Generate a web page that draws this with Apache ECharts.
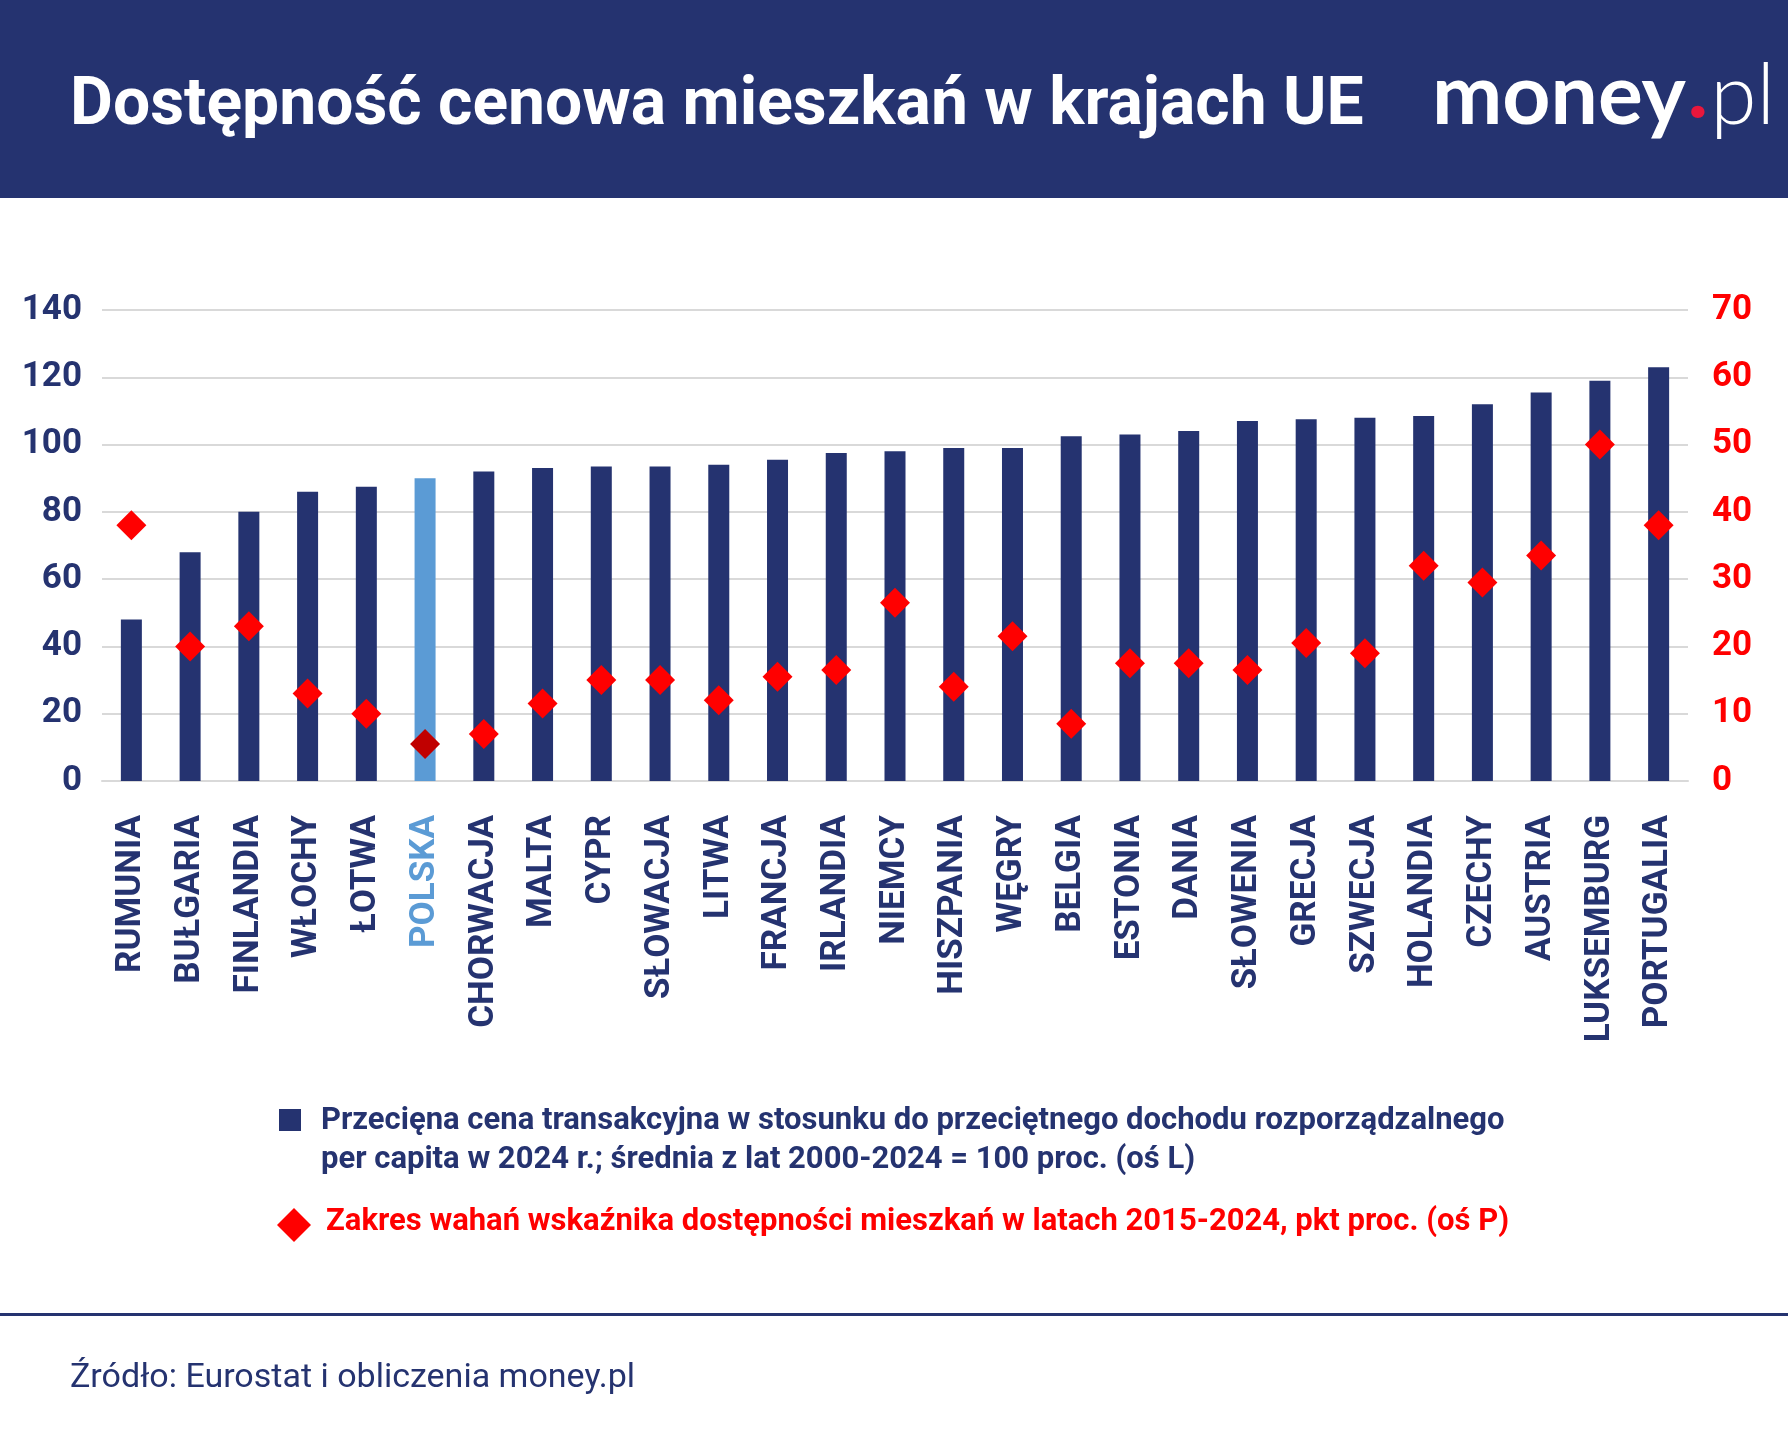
<!DOCTYPE html>
<html><head><meta charset="utf-8">
<script src="https://cdn.jsdelivr.net/npm/echarts@6/dist/echarts.min.js"></script>
<style>html,body{margin:0;padding:0;background:#fff}#c{width:1788px;height:1440px}</style>
</head><body><div id="c"></div>
<script>
const categories = ['RUMUNIA','BUŁGARIA','FINLANDIA','WŁOCHY','ŁOTWA','POLSKA','CHORWACJA','MALTA','CYPR','SŁOWACJA','LITWA','FRANCJA','IRLANDIA','NIEMCY','HISZPANIA','WĘGRY','BELGIA','ESTONIA','DANIA','SŁOWENIA','GRECJA','SZWECJA','HOLANDIA','CZECHY','AUSTRIA','LUKSEMBURG','PORTUGALIA'];
const priceIndex = [48,68,80,86,87.5,90,92,93,93.5,93.5,94,95.5,97.5,98,99,99,102.5,103,104,107,107.5,108,108.5,112,115.5,119,123];
const rangePts = [38,20,23,13,10,5.5,7,11.5,15,15,12,15.5,16.5,26.5,14,21.5,8.5,17.5,17.5,16.5,20.5,19,32,29.5,33.5,50,38];
const highlight = 'POLSKA';
const NAVY = '#253370', RED = '#ff0000';
const chart = echarts.init(document.getElementById('c'));
const F = 'Roboto, "Noto Sans", sans-serif';
chart.setOption({
  animation:false,
  grid:{left:102,right:100,top:310,bottom:659,containLabel:false},
  xAxis:{type:'category',data:categories,
    axisLine:{lineStyle:{color:'#d9d9d9',width:2}},axisTick:{show:false},
    axisLabel:{rotate:90,interval:0,margin:34,fontFamily:F,fontWeight:'bold',fontSize:35,
      color:(v)=>v===highlight?'#5b9bd5':NAVY}},
  yAxis:[
    {type:'value',min:0,max:140,interval:20,position:'left',
     axisLabel:{fontFamily:F,fontWeight:'bold',fontSize:35,color:NAVY,margin:20},
     splitLine:{lineStyle:{color:'#d9d9d9',width:2}},axisLine:{show:false},axisTick:{show:false}},
    {type:'value',min:0,max:70,interval:10,position:'right',
     axisLabel:{fontFamily:F,fontWeight:'bold',fontSize:35,color:RED,margin:24,align:'left'},
     splitLine:{show:false},axisLine:{show:false},axisTick:{show:false}}
  ],
  series:[
    {type:'bar',yAxisIndex:0,barWidth:21,
     data:priceIndex.map((v,i)=>({value:v,itemStyle:{color:categories[i]===highlight?'#5b9bd5':NAVY}}))},
    {type:'scatter',yAxisIndex:1,symbol:'diamond',symbolSize:[30,30],z:5,
     data:rangePts.map((v,i)=>({value:v,itemStyle:{opacity:1,color:categories[i]===highlight?'#c00000':RED}}))}
  ],
  graphic:[
    {type:'rect',left:0,top:0,shape:{width:1788,height:198},style:{fill:NAVY}},
    {type:'text',left:70,top:74,style:{text:'Dostępność cenowa mieszkań w krajach UE',fill:'#fff',font:'bold 66px '+F}},
    {type:'text',left:1432,top:55,style:{rich:{m:{fill:'#fff',font:'bold 84px Lato, '+F},d:{fill:'#e8173c',font:'bold 84px '+F},p:{fill:'#fff',font:'300 84px Lato, '+F}},text:'{m|money}{d|.}{p|pl}'}},
    {type:'rect',left:279,top:1109,shape:{width:22,height:22},style:{fill:NAVY}},
    {type:'text',left:321,top:1102,style:{text:'Przecięna cena transakcyjna w stosunku do przeciętnego dochodu rozporządzalnego\nper capita w 2024 r.; średnia z lat 2000-2024 = 100 proc. (oś L)',fill:NAVY,font:'bold 31px '+F,lineHeight:39}},
    {type:'polygon',shape:{points:[[294,1208],[311,1225],[294,1242],[277,1225]]},style:{fill:RED}},
    {type:'text',left:326,top:1207,style:{text:'Zakres wahań wskaźnika dostępności mieszkań w latach 2015-2024, pkt proc. (oś P)',fill:RED,font:'bold 31px '+F}},
    {type:'rect',left:0,top:1313,shape:{width:1788,height:3},style:{fill:NAVY}},
    {type:'text',left:70,top:1361,style:{text:'Źródło: Eurostat i obliczenia money.pl',fill:NAVY,font:'34px '+F}}
  ]
});
</script></body></html>
